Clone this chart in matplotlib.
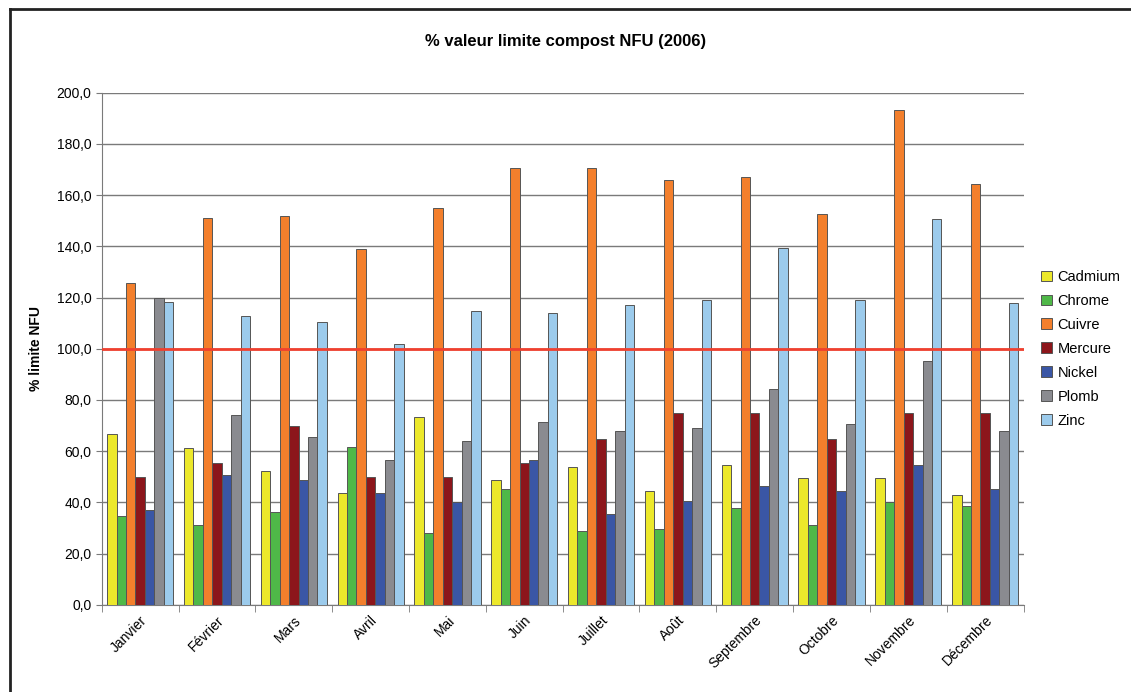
import numpy as np
import matplotlib
matplotlib.use("Agg")
import matplotlib.pyplot as plt
from matplotlib.lines import Line2D
from matplotlib.ticker import FuncFormatter

plt.rcParams['font.family'] = ['Liberation Sans', 'DejaVu Sans']

months = ['Janvier', 'Février', 'Mars', 'Avril', 'Mai', 'Juin', 'Juillet',
          'Août', 'Septembre', 'Octobre', 'Novembre', 'Décembre']

cadmium = [66.8, 61.1, 52.3, 43.6, 73.3, 48.7, 53.7, 44.4, 54.5, 49.4, 49.4, 42.8]
chrome = [34.6, 31.1, 36.2, 61.6, 28.2, 45.1, 28.9, 29.7, 37.7, 31.1, 40.0, 38.5]
cuivre = [125.8, 151.1, 151.9, 138.8, 154.8, 170.7, 170.7, 165.8, 167.1, 152.8, 193.3, 164.3]
mercure = [50.1, 55.2, 69.7, 50.1, 50.1, 55.2, 64.7, 74.9, 74.9, 64.7, 74.9, 74.9]
nickel = [37.0, 50.7, 48.7, 43.6, 40.0, 56.6, 35.4, 40.7, 46.4, 44.4, 54.5, 45.1]
plomb = [120.0, 74.1, 65.4, 56.6, 63.9, 71.3, 67.7, 69.1, 84.3, 70.6, 95.2, 67.7]
zinc = [118.4, 112.8, 110.5, 101.7, 114.8, 114.1, 117.0, 119.2, 139.5, 119.2, 150.5, 117.7]

series = [('Cadmium', cadmium, '#ece82b'),
          ('Chrome', chrome, '#4fb848'),
          ('Cuivre', cuivre, '#f37f2c'),
          ('Mercure', mercure, '#8c161b'),
          ('Nickel', nickel, '#3a56a5'),
          ('Plomb', plomb, '#8a8b90'),
          ('Zinc', zinc, '#9ccbec')]

limit = 100.0

fig = plt.figure(figsize=(11.31, 6.92), dpi=100)
ax = fig.add_axes([0.090, 0.126, 0.815, 0.740])

x = np.arange(len(months))
width = 0.123
n = len(series)
for k, (name, vals, color) in enumerate(series):
    offs = (k - (n - 1) / 2) * width
    ax.bar(x + offs, vals, width, color=color, edgecolor='#555555',
           linewidth=0.7, label=name, zorder=3)

ax.axhline(limit, color='#f0402f', linewidth=2, zorder=4)

ax.set_xlim(-0.5, len(months) - 0.5)
ax.set_ylim(0, 200)
ax.set_yticks(np.arange(0, 201, 20))
ax.yaxis.set_major_formatter(FuncFormatter(lambda v, p: ('%.1f' % v).replace('.', ',')))
ax.grid(axis='y', color='#7a7a7a', linewidth=1, zorder=0)

ax.set_xticks(x)
ax.set_xticklabels(months, rotation=45, ha='right', rotation_mode='anchor')
ax.set_xticks(np.arange(-0.5, len(months), 1), minor=True)
ax.tick_params(axis='x', which='major', length=0, pad=6, labelsize=10)
ax.tick_params(axis='x', which='minor', length=5, color='#7a7a7a')
ax.tick_params(axis='y', length=4, color='#7a7a7a', labelsize=10)

for s in ['top', 'right']:
    ax.spines[s].set_visible(False)
for s in ['left', 'bottom']:
    ax.spines[s].set_color('#7a7a7a')

ax.set_ylabel('% limite NFU', fontsize=10, fontweight='bold', labelpad=10)
fig.text(0.5, 0.94, '% valeur limite compost NFU (2006)', ha='center', va='center',
         fontsize=12, fontweight='bold')

ax.legend(loc='center left', bbox_to_anchor=(1.005, 0.5), frameon=False,
          fontsize=10.5, handlelength=0.75, handleheight=0.75, handletextpad=0.35,
          labelspacing=0.68)

# outer frame (only top and left edges visible in the crop)
fig.add_artist(Line2D([0.0085, 0.0085], [0.0, 0.987], transform=fig.transFigure,
                      color='#222222', linewidth=2))
fig.add_artist(Line2D([0.0085, 1.0], [0.987, 0.987], transform=fig.transFigure,
                      color='#222222', linewidth=2))

fig.savefig('out.png', dpi=100)
